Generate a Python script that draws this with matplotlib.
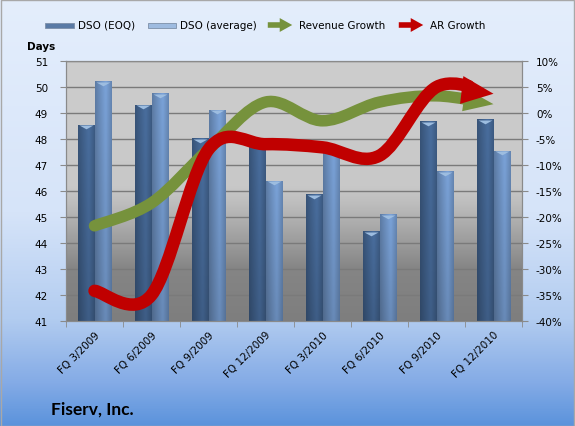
import numpy as np
import matplotlib
matplotlib.use('Agg')
import matplotlib.pyplot as plt
from matplotlib.path import Path
from matplotlib.patches import PathPatch, Polygon, Rectangle, FancyArrowPatch
from matplotlib.colors import LinearSegmentedColormap, to_rgb
from matplotlib.bezier import split_de_casteljau

quarters = ['FQ 3/2009', 'FQ 6/2009', 'FQ 9/2009', 'FQ 12/2009',
            'FQ 3/2010', 'FQ 6/2010', 'FQ 9/2010', 'FQ 12/2010']
dso_eoq = [48.55, 49.32, 48.03, 48.0, 45.88, 44.47, 48.7, 48.77]
dso_avg = [50.24, 49.76, 49.13, 46.4, 47.7, 45.1, 46.77, 47.55]
revenue_growth = [-21.7, -17.3, -7.0, 2.1, -1.5, 2.1, 3.3, 1.7]
ar_growth = [-34.2, -35.0, -7.0, -6.0, -6.6, -8.2, 5.0, 3.7]

W, H = 575, 427
fig = plt.figure(figsize=(W / 100, H / 100), dpi=100)

# figure background gradient
bg = fig.add_axes([0, 0, 1, 1])
bg_cmap = LinearSegmentedColormap.from_list('bg', [
    (0.0, '#e4eefc'), (0.5, '#d6e4f9'), (0.75, '#b2ccf0'),
    (0.9, '#84abe6'), (1.0, '#5b93dc')])
bg.imshow(np.linspace(0, 1, 256).reshape(-1, 1), cmap=bg_cmap, aspect='auto',
          extent=[0, 1, 0, 1], origin='upper')
bg.set_xlim(0, 1); bg.set_ylim(0, 1)
bg.axis('off')
fig.patches.append(Rectangle((0.001, 0.001), 0.997, 0.997, transform=fig.transFigure,
                             fill=False, edgecolor='#a8a8a8', lw=1))

ax = fig.add_axes([66 / W, 1 - 322 / H, 456 / W, 260 / H])
ax.patch.set_alpha(0)
plot_cmap = LinearSegmentedColormap.from_list('pa', [
    (0.0, '#7e7e7e'), (0.2, '#858585'), (0.45, '#bdbdbd'),
    (0.52, '#c8c8c8'), (1.0, '#cdcdcd')])
ax.imshow(np.linspace(0, 1, 256).reshape(-1, 1), cmap=plot_cmap, aspect='auto',
          extent=[0, 1, 0, 1], origin='lower', transform=ax.transAxes, zorder=-2)

x = np.arange(len(quarters))
bw = 0.29


def shaded_bars(xpos, vals, base):
    base = np.array(to_rgb(base))
    bars = ax.bar(xpos, vals, bw, bottom=0, color=base, edgecolor='#6c7d96',
                  linewidth=0.7, zorder=2)
    h = np.concatenate([np.linspace(0.85, 1.1, 10), np.linspace(1.1, 0.92, 6)])
    v = np.linspace(0.88, 1.03, 40).reshape(-1, 1)
    img = np.clip(base[None, None, :] * (v * h)[:, :, None], 0, 1)
    for b, val in zip(bars, vals):
        x0 = b.get_x()
        im = ax.imshow(img, extent=[x0, x0 + bw, 41, val], origin='lower',
                       aspect='auto', zorder=2.1)
        im.set_clip_path(b)
    # small bevel triangle at the top of each bar
    tri = [(-1, 0), (1, 0), (0, -0.55), (-1, 0)]
    ax.plot(xpos, np.array(vals) - 0.03, linestyle='none', marker=tri,
            markersize=10, color='#9dbde0', markeredgewidth=0, zorder=2.2)


shaded_bars(x - 0.15, dso_eoq, '#40608a')
shaded_bars(x + 0.15, dso_avg, '#6b8ebd')

ax.set_xlim(-0.5, len(quarters) - 0.5)
ax.set_ylim(41, 51)
ax.set_yticks(range(41, 52))
ax.yaxis.grid(True, color='#7a7a7a', lw=1, zorder=0.5)
ax.set_axisbelow(True)
ax.set_xticks(x)
ax.set_xticklabels(quarters, rotation=45, ha='right', rotation_mode='anchor',
                   fontsize=7.5)
ax.set_xticks(np.arange(-0.5, len(quarters)), minor=True)
ax.tick_params(axis='x', which='major', length=0, pad=6)
ax.tick_params(axis='x', which='minor', length=4, color='#8a8a8a')
ax.tick_params(axis='y', length=4, color='#8a8a8a', labelsize=7.5, pad=9)
for s in ax.spines.values():
    s.set_color('#8a8a8a')

ax2 = ax.twinx()
ax2.set_ylim(-40, 10)
ax2.set_yticks(range(-40, 11, 5))
ax2.set_yticklabels([f'{v}%' for v in range(-40, 11, 5)])
ax2.tick_params(axis='y', length=4, color='#8a8a8a', labelsize=7.5, pad=6)
for s in ax2.spines.values():
    s.set_color('#8a8a8a')


def arrow_curve(axis, xs, ys, color, lw_px, hl, hw):
    pts = np.column_stack([xs, ys]).astype(float)
    n = len(pts)
    segs = []
    for i in range(n - 1):
        p0 = pts[i - 1] if i > 0 else pts[i]
        p1, p2 = pts[i], pts[i + 1]
        p3 = pts[i + 2] if i + 2 < n else pts[i + 1]
        segs.append(np.array([p1, p1 + (p2 - p0) / 6, p2 - (p3 - p1) / 6, p2]))
    tr = axis.transData
    last = segs[-1]
    tip = tr.transform(last[3])
    best_t = 0.5
    for t in np.linspace(0.99, 0.01, 99):
        left, _ = split_de_casteljau(last, t)
        if np.hypot(*(tr.transform(left[-1]) - tip)) >= hl - 6:
            best_t = t
            break
    left, _ = split_de_casteljau(last, best_t)
    segs[-1] = np.array(left)
    verts = [segs[0][0]]
    codes = [Path.MOVETO]
    for s in segs:
        verts += list(s[1:])
        codes += [Path.CURVE4] * 3
    axis.add_patch(PathPatch(Path(verts, codes), fill=False, edgecolor=color,
                             lw=lw_px * 0.72, capstyle='round', joinstyle='round'))
    d = tip - tr.transform(last[2])
    d = d / np.hypot(*d)
    p = np.array([-d[1], d[0]])
    base = tip - d * hl
    head = np.array([tip, base + p * hw / 2, base - p * hw / 2])
    axis.add_patch(Polygon(tr.inverted().transform(head), closed=True,
                           facecolor=color, edgecolor='none'))


arrow_curve(ax2, x, revenue_growth, '#76923c', 11.5, 30, 23)
arrow_curve(ax2, x, ar_growth, '#c00000', 12.5, 32, 28)

# legend
def fx(px):
    return px / W


def fy(py):
    return 1 - py / H


fig.patches.append(Rectangle((fx(45), fy(29)), fx(29), 5 / H, transform=fig.transFigure,
                             facecolor='#5a7aa5', edgecolor='#7d8fa8', lw=0.6))
fig.patches.append(Rectangle((fx(148), fy(29)), fx(28), 5 / H, transform=fig.transFigure,
                             facecolor='#9ebbe0', edgecolor='#7d8fa8', lw=0.6))
fig.text(fx(78), fy(26), 'DSO (EOQ)', fontsize=7.5, va='center')
fig.text(fx(180), fy(26), 'DSO (average)', fontsize=7.5, va='center')
for x0, col, label in [(265, '#76923c', 'Revenue Growth'), (396, '#c00000', 'AR Growth')]:
    fig.patches.append(FancyArrowPatch((fx(x0), fy(26)), (fx(x0 + 30), fy(26)),
                                       transform=fig.transFigure,
                                       arrowstyle='simple,head_length=0.9,head_width=1.0,tail_width=0.4',
                                       mutation_scale=10, color=col, lw=0))
    fig.text(fx(x0 + 34), fy(26), label, fontsize=7.5, va='center')

fig.text(fx(27), fy(47), 'Days', fontsize=7.5, fontweight='bold', va='center')
fig.text(fx(51), fy(410), 'Fiserv, Inc.', fontsize=12.5, fontweight='bold',
         va='center', family=['Lato', 'DejaVu Sans'])

fig.savefig('out.png', dpi=100)
